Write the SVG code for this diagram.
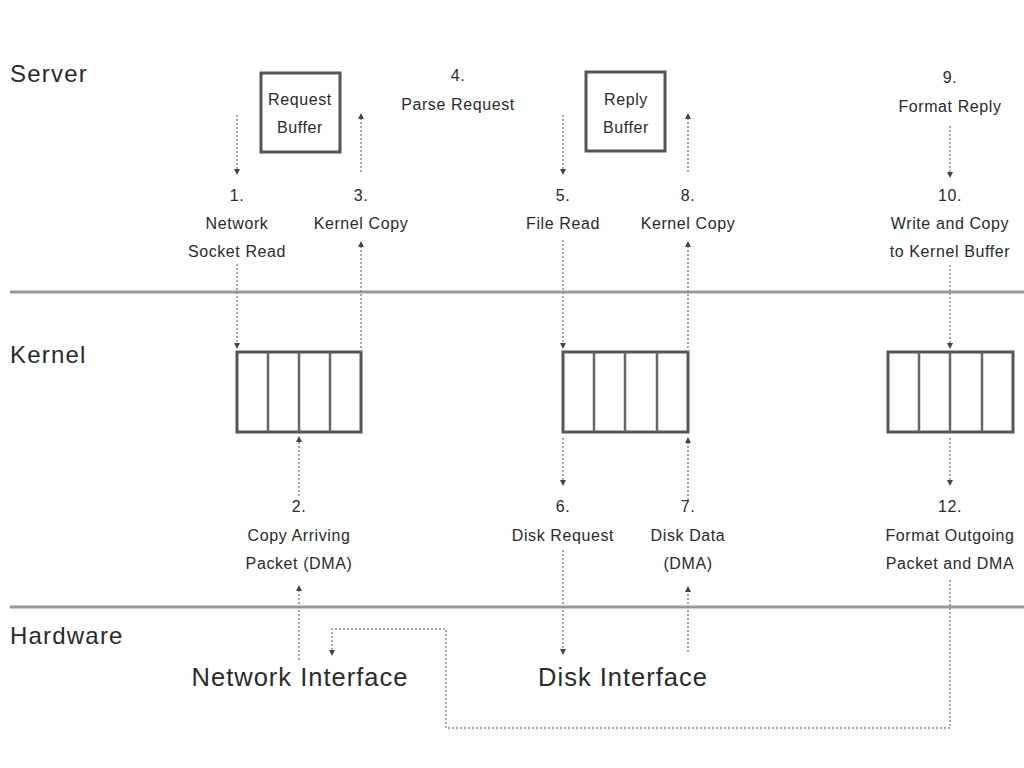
<svg xmlns="http://www.w3.org/2000/svg" width="1024" height="768" viewBox="0 0 1024 768">
<style>
.sec{font-family:"Liberation Sans",Arial,sans-serif;font-size:24px;fill:#2a2a2a;letter-spacing:1.2px}
.lbl{font-family:"Liberation Sans",Arial,sans-serif;font-size:16px;fill:#2a2a2a;text-anchor:middle;letter-spacing:0.6px}
.big{font-family:"Liberation Sans",Arial,sans-serif;font-size:25.5px;fill:#2a2a2a;text-anchor:middle;letter-spacing:1px}
.rule{stroke:#999;stroke-width:3}
.box{fill:#fff;stroke:#555;stroke-width:3}
.cell{stroke:#666;stroke-width:2.5}
.dash{fill:none;stroke:#888;stroke-width:1.5;stroke-dasharray:2 2}
</style>
<defs>
<marker id="ah" viewBox="0 0 6 6" refX="3" refY="3" markerWidth="6" markerHeight="6" orient="auto" markerUnits="userSpaceOnUse">
<path d="M0,0 L6,3 L0,6 z" fill="#444"/>
</marker>
</defs>
<rect width="1024" height="768" fill="#fff"/>
<g id="layers">
<line class="rule" x1="10" y1="292" x2="1024" y2="292"/>
<line class="rule" x1="10" y1="607" x2="1024" y2="607"/>
<text class="sec" x="10" y="82">Server</text>
<text class="sec" x="10" y="363">Kernel</text>
<text class="sec" x="10" y="644">Hardware</text>
</g>
<g id="request-buffer">
<rect class="box" x="261" y="73" width="79" height="79"/>
<text class="lbl" x="300" y="105">Request</text>
<text class="lbl" x="300" y="133">Buffer</text>
</g>
<g id="reply-buffer">
<rect class="box" x="586" y="72" width="79" height="79"/>
<text class="lbl" x="626" y="105">Reply</text>
<text class="lbl" x="626" y="133">Buffer</text>
</g>
<g id="kbuf1">
<rect class="box" x="237" y="352" width="124" height="80"/>
<line class="cell" x1="268" y1="352" x2="268" y2="432"/>
<line class="cell" x1="299" y1="352" x2="299" y2="432"/>
<line class="cell" x1="330" y1="352" x2="330" y2="432"/>
</g>
<g id="kbuf2">
<rect class="box" x="563" y="352" width="125" height="80"/>
<line class="cell" x1="594" y1="352" x2="594" y2="432"/>
<line class="cell" x1="625" y1="352" x2="625" y2="432"/>
<line class="cell" x1="657" y1="352" x2="657" y2="432"/>
</g>
<g id="kbuf3">
<rect class="box" x="888" y="352" width="125" height="80"/>
<line class="cell" x1="919" y1="352" x2="919" y2="432"/>
<line class="cell" x1="950" y1="352" x2="950" y2="432"/>
<line class="cell" x1="982" y1="352" x2="982" y2="432"/>
</g>
<g id="step1"><text class="lbl" x="237" y="201">1.</text><text class="lbl" x="237" y="229">Network</text><text class="lbl" x="237" y="257">Socket Read</text></g>
<g id="step2"><text class="lbl" x="299" y="512">2.</text><text class="lbl" x="299" y="541">Copy Arriving</text><text class="lbl" x="299" y="569">Packet (DMA)</text></g>
<g id="step3"><text class="lbl" x="361" y="201">3.</text><text class="lbl" x="361" y="229">Kernel Copy</text></g>
<g id="step4"><text class="lbl" x="458" y="81">4.</text><text class="lbl" x="458" y="110">Parse Request</text></g>
<g id="step5"><text class="lbl" x="563" y="201">5.</text><text class="lbl" x="563" y="229">File Read</text></g>
<g id="step6"><text class="lbl" x="563" y="512">6.</text><text class="lbl" x="563" y="541">Disk Request</text></g>
<g id="step7"><text class="lbl" x="688" y="512">7.</text><text class="lbl" x="688" y="541">Disk Data</text><text class="lbl" x="688" y="569">(DMA)</text></g>
<g id="step8"><text class="lbl" x="688" y="201">8.</text><text class="lbl" x="688" y="229">Kernel Copy</text></g>
<g id="step9"><text class="lbl" x="950" y="83">9.</text><text class="lbl" x="950" y="112">Format Reply</text></g>
<g id="step10"><text class="lbl" x="950" y="201">10.</text><text class="lbl" x="950" y="229">Write and Copy</text><text class="lbl" x="950" y="257">to Kernel Buffer</text></g>
<g id="step12"><text class="lbl" x="950" y="512">12.</text><text class="lbl" x="950" y="541">Format Outgoing</text><text class="lbl" x="950" y="569">Packet and DMA</text></g>
<g id="network-interface"><text class="big" x="300" y="686">Network Interface</text></g>
<g id="disk-interface"><text class="big" x="623" y="686">Disk Interface</text></g>
<g id="connectors">
<line class="dash" x1="237" y1="115" x2="237" y2="172" marker-end="url(#ah)"/>
<line class="dash" x1="237" y1="264" x2="237" y2="346" marker-end="url(#ah)"/>
<line class="dash" x1="361" y1="352" x2="361" y2="244" marker-end="url(#ah)"/>
<line class="dash" x1="361" y1="172" x2="361" y2="116" marker-end="url(#ah)"/>
<line class="dash" x1="299" y1="496" x2="299" y2="439" marker-end="url(#ah)"/>
<line class="dash" x1="299" y1="660" x2="299" y2="588" marker-end="url(#ah)"/>
<line class="dash" x1="563" y1="115" x2="563" y2="172" marker-end="url(#ah)"/>
<line class="dash" x1="563" y1="240" x2="563" y2="346" marker-end="url(#ah)"/>
<line class="dash" x1="563" y1="438" x2="563" y2="483" marker-end="url(#ah)"/>
<line class="dash" x1="563" y1="550" x2="563" y2="652" marker-end="url(#ah)"/>
<line class="dash" x1="688" y1="652" x2="688" y2="589" marker-end="url(#ah)"/>
<line class="dash" x1="688" y1="500" x2="688" y2="440" marker-end="url(#ah)"/>
<line class="dash" x1="688" y1="352" x2="688" y2="244" marker-end="url(#ah)"/>
<line class="dash" x1="688" y1="172" x2="688" y2="116" marker-end="url(#ah)"/>
<line class="dash" x1="950" y1="126" x2="950" y2="175" marker-end="url(#ah)"/>
<line class="dash" x1="950" y1="265" x2="950" y2="346" marker-end="url(#ah)"/>
<line class="dash" x1="950" y1="438" x2="950" y2="483" marker-end="url(#ah)"/>
<path class="dash" d="M950,580 V728 H446 V629 H332 V653" marker-end="url(#ah)"/>
</g>
</svg>
